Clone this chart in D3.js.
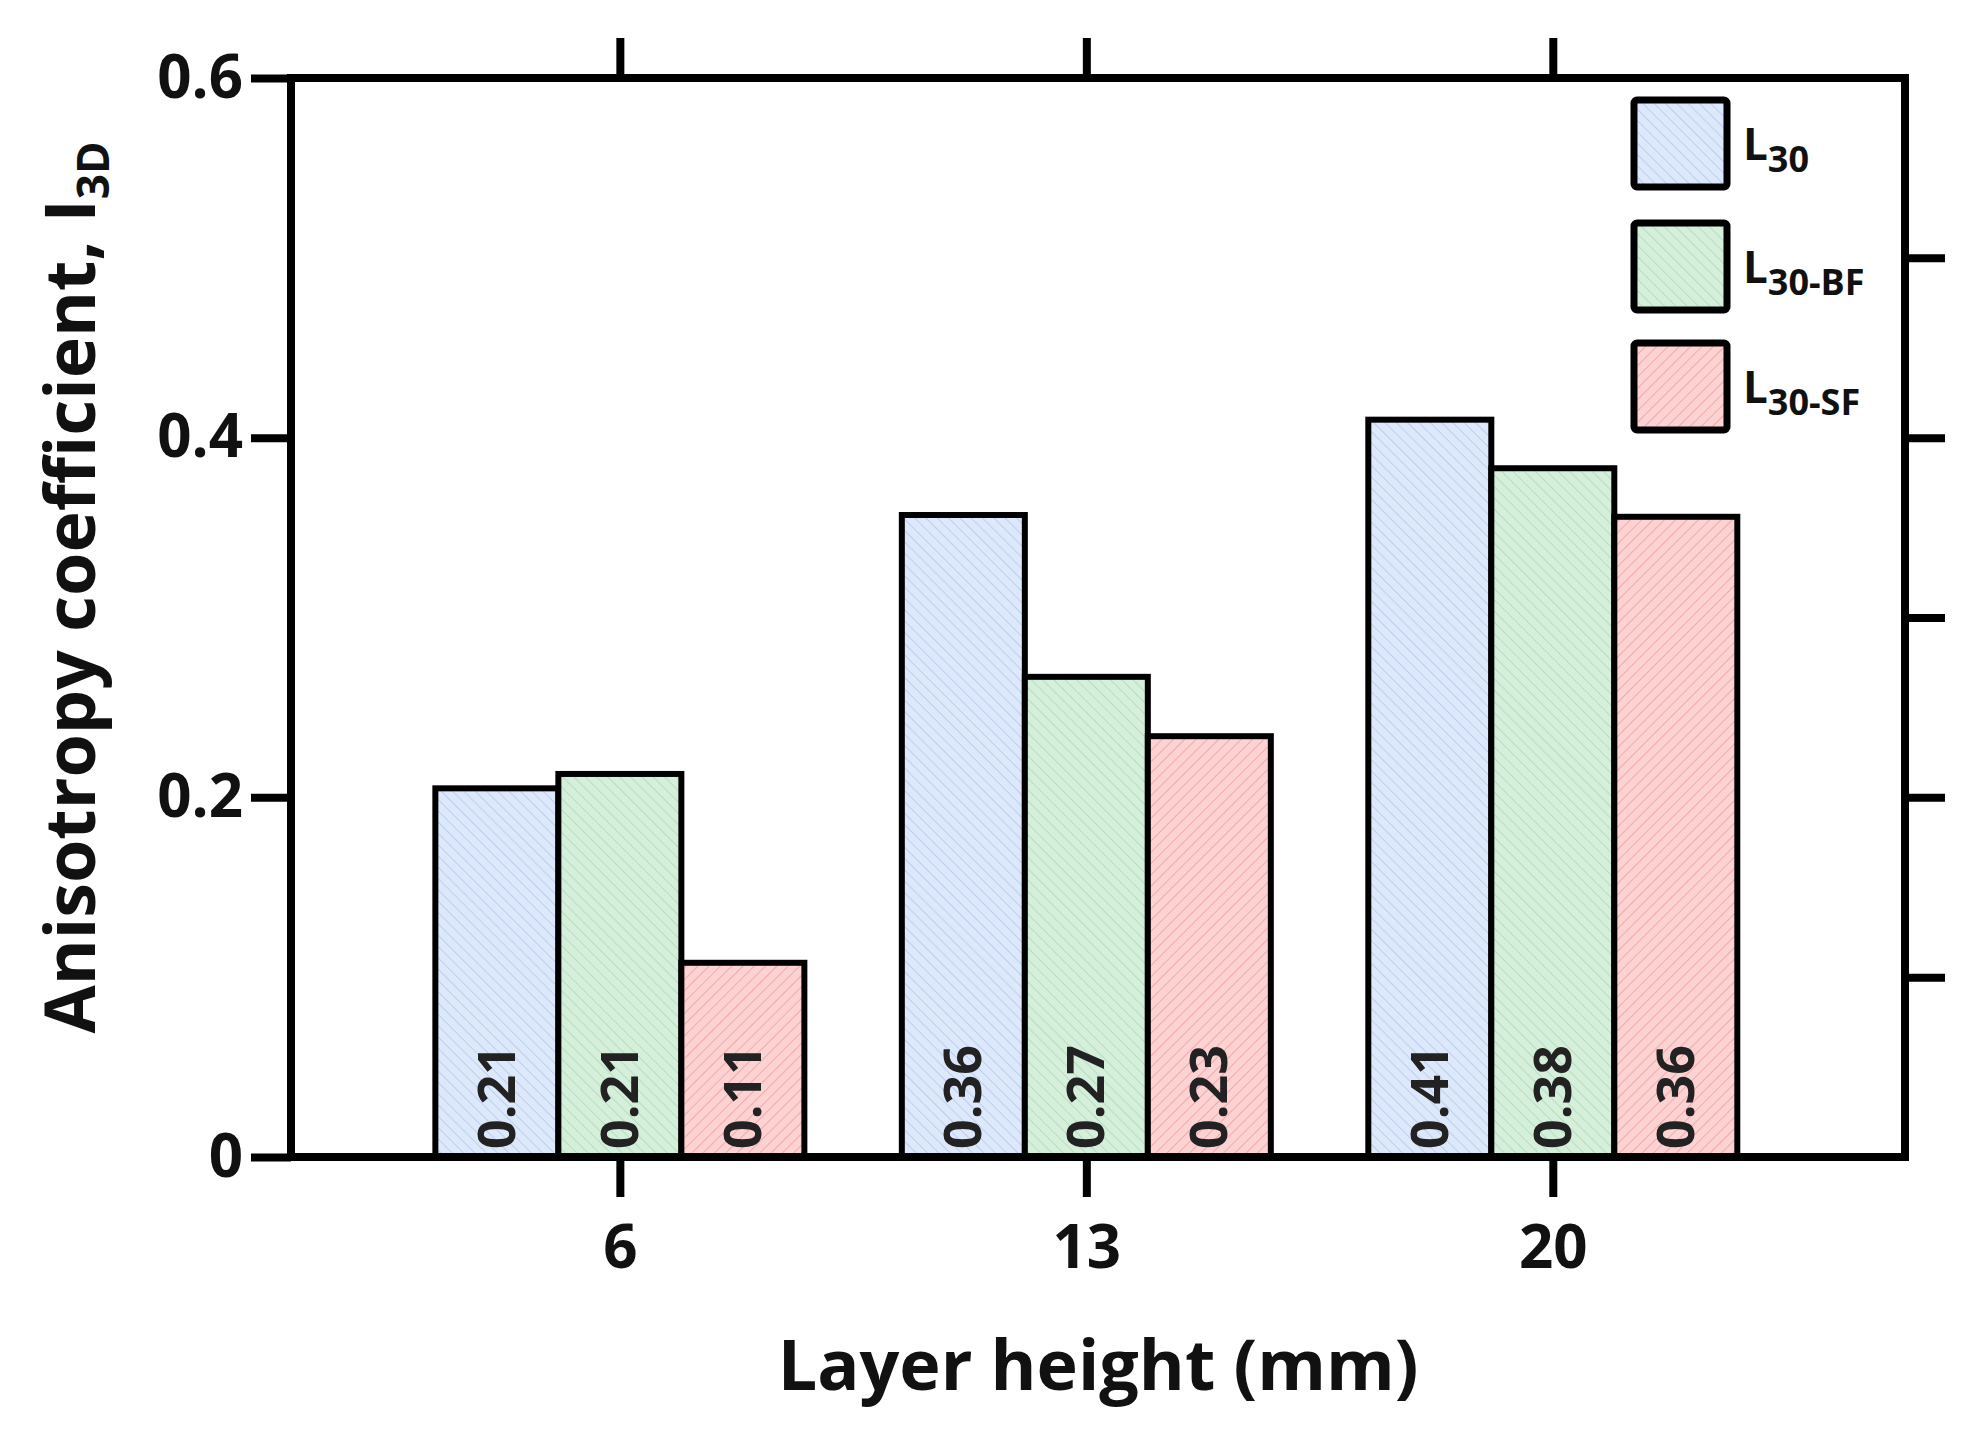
<!DOCTYPE html>
<html><head><meta charset="utf-8">
<script src="https://cdn.jsdelivr.net/npm/d3@7"></script>
<style>body{margin:0;background:#fff}text{font-family:"Open Sans",sans-serif;font-weight:600}</style>
</head><body><svg id="c" width="1985" height="1430"></svg>
<script>
const categories = ["6","13","20"];
const seriesNames = ["L30","L30-BF","L30-SF"];
const subs = ["30","30-BF","30-SF"];
const L30 = [0.205,0.357,0.41];
const L30BF = [0.213,0.267,0.383];
const L30SF = [0.108,0.234,0.356];
const labels = [["0.21","0.36","0.41"],["0.21","0.27","0.38"],["0.11","0.23","0.36"]];
const yTicks = [0,0.2,0.4,0.6];
const yTickLabels = ["0","0.2","0.4","0.6"];
const series = [L30,L30BF,L30SF];
const fills = ["#dde9fb","#d5efdb","#fcd2d2"];
const hatch = ["#b9cff2","#b3dfbf","#f5a9a9"];

const svg = d3.select("#c");
const L=291,R=1905,T=78,B=1157;
const y = d3.scaleLinear().domain([0,0.6]).range([B,T]);
const x = d3.scaleLinear().domain([-0.705,2.755]).range([L,R]);
const bw = 123;

const defs = svg.append("defs");
fills.forEach((f,i)=>{
  const p = defs.append("pattern").attr("id","p"+i).attr("patternUnits","userSpaceOnUse")
    .attr("width",8).attr("height",8).attr("patternTransform", i==2?"rotate(45)":"rotate(-45)");
  p.append("rect").attr("width",8).attr("height",8).attr("fill",f);
  p.append("line").attr("x1",0).attr("y1",0).attr("x2",0).attr("y2",8).attr("stroke",hatch[i]).attr("stroke-width",2);
});

series.forEach((s,si)=>{
  const g = svg.append("g");
  g.selectAll("rect").data(s).join("rect")
    .attr("x",(d,i)=>x(i)+(si-1.5)*bw).attr("y",d=>y(d))
    .attr("width",bw).attr("height",d=>y(0)-y(d))
    .attr("fill","url(#p"+si+")").attr("stroke","#000").attr("stroke-width",6);
  g.selectAll("text").data(s).join("text")
    .attr("transform",(d,i)=>`translate(${x(i)+(si-1)*bw+18},${B-8}) rotate(-90)`)
    .attr("font-size",52).style("font-weight",700).attr("fill","#222").text((d,i)=>labels[si][i]);
});

svg.append("rect").attr("x",L).attr("y",T).attr("width",R-L).attr("height",B-T)
  .attr("fill","none").attr("stroke","#000").attr("stroke-width",8);
svg.append("g").attr("transform",`translate(0,${B})`)
  .call(d3.axisBottom(x).tickValues([0,1,2]).tickFormat(i=>categories[i]).tickSize(40).tickPadding(28));
svg.append("g").attr("transform",`translate(0,${T})`)
  .call(d3.axisTop(x).tickValues([0,1,2]).tickFormat("").tickSize(40));
svg.append("g").attr("transform",`translate(${L},0)`)
  .call(d3.axisLeft(y).tickValues(yTicks).tickFormat((d,i)=>yTickLabels[i]).tickSize(40).tickPadding(8));
svg.append("g").attr("transform",`translate(${R},0)`)
  .call(d3.axisRight(y).tickValues([0.1,0.2,0.3,0.4,0.5]).tickFormat("").tickSize(40));
svg.selectAll(".domain").remove();
svg.selectAll(".tick line").attr("stroke","#000").attr("stroke-width",8);
svg.selectAll(".tick text").attr("font-size",60).attr("fill","#111").style("font-family","'Open Sans',sans-serif").style("font-weight",700);

svg.append("text").attr("x",(L+R)/2).attr("y",1390).attr("text-anchor","middle").attr("font-size",70).style("font-weight",700).attr("fill","#111").text("Layer height (mm)");
const yt = svg.append("text").attr("transform",`translate(95,${(T+B)/2-30}) rotate(-90)`).attr("text-anchor","middle").attr("font-size",70).style("font-weight",700).attr("fill","#111");
yt.append("tspan").text("Anisotropy coefficient, I");
yt.append("tspan").attr("font-size",44).attr("dy",14).text("3D");

const ly = [100,223,343];
seriesNames.forEach((n,i)=>{
  svg.append("rect").attr("x",1634).attr("y",ly[i]).attr("width",93).attr("height",87)
    .attr("fill","url(#p"+i+")").attr("stroke","#000").attr("stroke-width",7).attr("rx",3);
  const t = svg.append("text").attr("x",1743).attr("y",ly[i]+60).attr("font-size",44).style("font-weight",700).attr("fill","#111");
  t.append("tspan").text("L");
  t.append("tspan").attr("font-size",36).attr("dy",12).text(subs[i]);
});
</script></body></html>
